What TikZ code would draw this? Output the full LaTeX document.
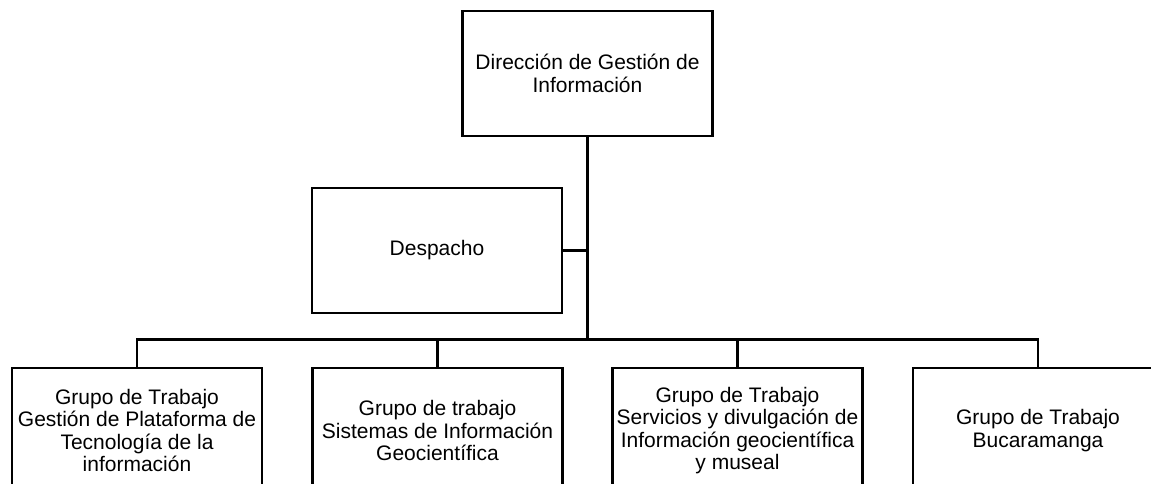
\documentclass[tikz,border=0pt]{standalone}
\usepackage{fontspec}
\setmainfont{Liberation Sans}
\begin{document}
\begin{tikzpicture}[x=1pt,y=-1pt,
  box/.style={draw=black,line width=2.6pt,minimum width=250pt,minimum height=125pt,inner sep=0pt,align=center,
    font=\fontsize{21}{22.5}\selectfont},
  conn/.style={draw=black,line width=2.6pt}]
\useasboundingbox (0,0) rectangle (1151,484);
\node[box] (top) at (587.5,73.5) {Dirección de Gestión de\\Información};
\node[box] (desp) at (437,250.5) {Despacho};
\node[box] (g1) at (137,430.5) {Grupo de Trabajo\\Gestión de Plataforma de\\Tecnología de la\\información};
\node[box] (g2) at (437.5,430.5) {Grupo de trabajo\\Sistemas de Información\\Geocientífica};
\node[box] (g3) at (737.5,430.5) {Grupo de Trabajo\\Servicios y divulgación de\\Información geocientífica\\y museal};
\node[box] (g4) at (1038,430.5) {Grupo de Trabajo\\Bucaramanga};
\coordinate (j) at (587.5,339.5);
\draw[conn] (top.south) -- (j);
\draw[conn] (desp.east) -- (desp.east -| top.south);
\draw[conn] (g1.north) |- (j);
\draw[conn] (g2.north) |- (j);
\draw[conn] (g3.north) |- (j);
\draw[conn] (g4.north) |- (j);
\end{tikzpicture}
\end{document}
